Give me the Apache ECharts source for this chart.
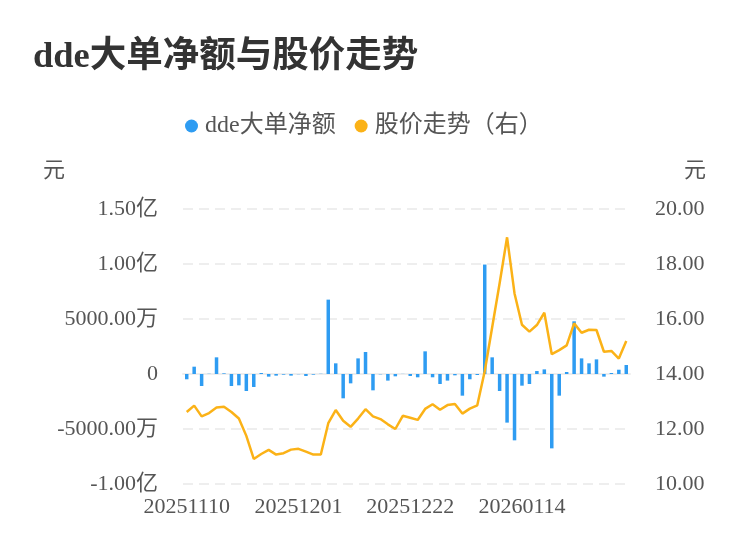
<!DOCTYPE html>
<html><head><meta charset="utf-8">
<script src="https://cdn.jsdelivr.net/npm/echarts@6/dist/echarts.min.js"></script>
<style>html,body{margin:0;padding:0;background:#fff}#c{width:750px;height:558px}</style>
</head><body><div id="c"></div>
<script>
const dates = ['20251110','20251111','20251112','20251113','20251114','20251117','20251118','20251119','20251120','20251121',
'20251124','20251125','20251126','20251127','20251128','20251201','20251202','20251203','20251204','20251205',
'20251208','20251209','20251210','20251211','20251212','20251215','20251216','20251217','20251218','20251219',
'20251222','20251223','20251224','20251225','20251226','20251229','20251230','20251231','20260105','20260106',
'20260107','20260108','20260109','20260112','20260113','20260114','20260115','20260116','20260119','20260120',
'20260121','20260122','20260123','20260126','20260127','20260128','20260129','20260130','20260202','20260203'];
// dde net amount, unit: 万元
const ddeNet = [-480,665,-1090,20,1515,60,-1090,-1030,-1545,-1180,
90,-240,-150,-60,-150,-20,-180,-60,20,6760,
970,-2210,-850,1420,2000,-1485,-30,-600,-210,10,
-180,-300,2060,-300,-910,-600,-120,-1970,-480,-90,
9950,1515,-1545,-4420,-6030,-1060,-910,270,420,-6760,
-1970,180,4790,1420,970,1330,-240,90,390,820];
// price, unit: 元
const price = [12.62,12.85,12.46,12.58,12.78,12.81,12.62,12.38,11.75,10.91,
11.09,11.24,11.07,11.12,11.25,11.28,11.18,11.07,11.07,12.21,
12.69,12.30,12.08,12.38,12.72,12.46,12.36,12.17,12.00,12.48,
12.41,12.33,12.73,12.90,12.70,12.87,12.91,12.56,12.74,12.86,
14.10,15.70,17.30,18.97,16.93,15.79,15.54,15.78,16.23,14.72,
14.87,15.04,15.84,15.50,15.61,15.60,14.81,14.84,14.56,15.20];
const seriesNames = ['dde大单净额','股价走势（右）'];

const FONT = "'Liberation Serif','Noto Sans CJK SC',serif";
const chart = echarts.init(document.getElementById('c'));
function fmtLeft(v){
  if (v === 0) return '0';
  if (Math.abs(v) >= 10000) return (v/10000).toFixed(2) + '亿';
  return v.toFixed(2) + '万';
}
chart.setOption({
  animation:false,
  textStyle:{fontFamily:FONT},
  title:{text:'dde大单净额与股价走势', left:28, top:34,
    textStyle:{fontFamily:FONT, fontSize:36.5, fontWeight:'bold', color:'#333'}},
  legend:{top:109, left:180, itemWidth:17, itemHeight:13, itemGap:19,
    icon:'circle',
    textStyle:{fontFamily:FONT, fontSize:24, color:'#555'},
    data:seriesNames},
  grid:{left:183, right:120, top:209, bottom:74},
  xAxis:{type:'category', data:dates, boundaryGap:true,
    axisTick:{show:false},
    axisLine:{lineStyle:{color:'#eeeeee', width:2}},
    axisLabel:{interval:14, margin:12, fontSize:22, color:'#555', fontFamily:FONT}},
  yAxis:[
    {type:'value', min:-10000, max:15000, interval:5000,
     name:'元', nameGap:27, nameTextStyle:{fontSize:22, color:'#555', align:'right', padding:[0,118,0,0], fontFamily:FONT},
     axisLabel:{formatter:fmtLeft, fontSize:22, color:'#555', margin:25, fontFamily:FONT},
     axisLine:{show:false}, axisTick:{show:false},
     splitLine:{lineStyle:{color:'#eeeeee', type:[10,6], width:2}}},
    {type:'value', min:10, max:20, interval:2,
     name:'元', nameGap:27, nameTextStyle:{fontSize:22, color:'#555', align:'left', padding:[0,0,0,54], fontFamily:FONT},
     axisLabel:{formatter:v=>v.toFixed(2), fontSize:22, color:'#555', margin:25, fontFamily:FONT},
     axisLine:{show:false}, axisTick:{show:false},
     splitLine:{show:false}}
  ],
  series:[
    {name:seriesNames[0], type:'bar', data:ddeNet, barWidth:3.5, yAxisIndex:0,
     itemStyle:{color:'#2e9cf2'}},
    {name:seriesNames[1], type:'line', data:price, yAxisIndex:1, showSymbol:false, symbol:'circle',
     lineStyle:{color:'#fbb217', width:2.5}, itemStyle:{color:'#fbb217'}}
  ]
});
</script></body></html>
